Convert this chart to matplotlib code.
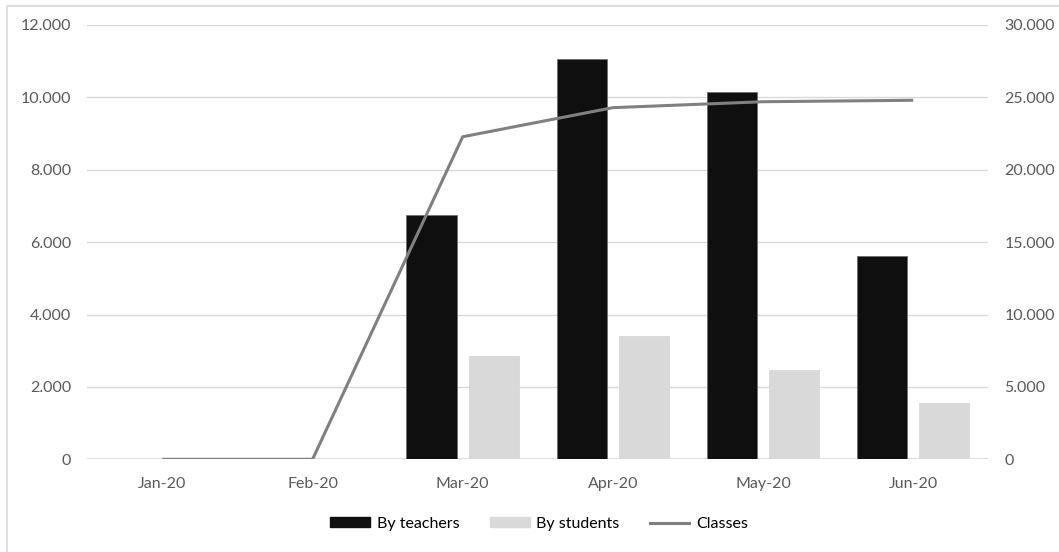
import matplotlib
matplotlib.use("Agg")
import matplotlib.pyplot as plt
from matplotlib.patches import Rectangle
from matplotlib.lines import Line2D
from matplotlib.ticker import FuncFormatter, MultipleLocator
import numpy as np

months = ["Jan-20", "Feb-20", "Mar-20", "Apr-20", "May-20", "Jun-20"]
by_teachers = [0, 0, 6760, 11070, 10140, 5610]
by_students = [0, 0, 2850, 3410, 2475, 1550]
classes = [0, 0, 22280, 24290, 24700, 24800]

W, H = 1059, 552
fig = plt.figure(figsize=(W / 100, H / 100), dpi=100)
plt.rcParams['font.family'] = ['Lato', 'DejaVu Sans']

# chart border (only left and top edges fall inside the image)
fig.patches.append(Rectangle((7 / W, -0.2), 1.2, 1.2 - 6 / H, transform=fig.transFigure,
                             fill=False, edgecolor="#d9d9d9", linewidth=1.2))

left, right = 87.3 / W, 988.3 / W
top, bottom = 1 - 25 / H, 1 - 459.3 / H
ax = fig.add_axes([left, bottom, right - left, top - bottom])
ax2 = ax.twinx()

x = np.arange(len(months))
bw = 0.335
off = 0.207
ax.bar(x - off, by_teachers, width=bw, color="#0f0f0f", edgecolor="#6e6e6e",
       linewidth=0.6, zorder=3, label="By teachers")
ax.bar(x + off, by_students, width=bw, color="#d9d9d9", edgecolor="#d9d9d9",
       linewidth=0.6, zorder=3, label="By students")
ax2.plot(x, classes, color="#808080", linewidth=2.2, zorder=4,
         solid_capstyle="butt", label="Classes")

fmt = FuncFormatter(lambda v, p: f"{v:,.0f}".replace(",", "."))
ax.set_ylim(0, 12000)
ax.yaxis.set_major_locator(MultipleLocator(2000))
ax.yaxis.set_major_formatter(fmt)
ax2.set_ylim(0, 30000)
ax2.yaxis.set_major_locator(MultipleLocator(5000))
ax2.yaxis.set_major_formatter(fmt)
ax.set_xlim(-0.5, len(months) - 0.5)
ax.set_xticks(x)
ax.set_xticklabels(months)

ax.grid(axis="y", color="#d9d9d9", linewidth=1.0, zorder=0)
ax.set_axisbelow(True)
for a in (ax, ax2):
    for s in a.spines.values():
        s.set_visible(False)
    a.tick_params(length=0, colors="#595959", labelsize=11.5)
ax.tick_params(axis="y", pad=11.5)
ax2.tick_params(axis="y", pad=11.5)
ax.tick_params(axis="x", pad=13)
ax.axhline(0, color="#d9d9d9", linewidth=1.2, zorder=1)

handles = [Rectangle((0, 0), 1, 1, color="#0f0f0f"),
           Rectangle((0, 0), 1, 1, color="#d9d9d9"),
           Line2D([0], [0], color="#808080", linewidth=2.2)]
fig.legend(handles, ["By teachers", "By students", "Classes"], loc="center",
           bbox_to_anchor=(539 / W, 1 - 524 / H), ncol=3, frameon=False,
           fontsize=11.5, handlelength=2.5, handleheight=0.6, handletextpad=0.4,
           columnspacing=1.9, labelcolor="#000000")

fig.savefig("out.png", dpi=100, facecolor="white")
